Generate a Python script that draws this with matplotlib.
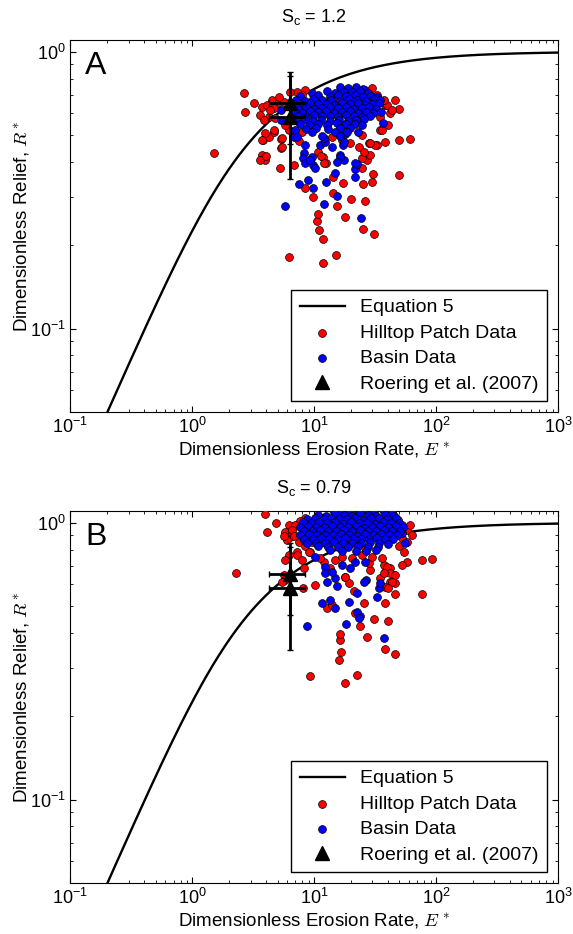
import numpy as np
import matplotlib
matplotlib.use("Agg")
import matplotlib.pyplot as plt
from matplotlib.ticker import NullFormatter, LogLocator

plt.rcParams['font.family'] = ['Liberation Sans', 'DejaVu Sans']
plt.rcParams['mathtext.fontset'] = 'custom'
plt.rcParams['mathtext.rm'] = 'Liberation Sans'
plt.rcParams['mathtext.it'] = 'Liberation Sans:italic'
plt.rcParams['mathtext.bf'] = 'Liberation Sans:bold'

# Roering et al. (2007) estimates (same in both panels)
roering_E = [6.36, 6.36]
roering_R = [0.653, 0.582]
roering_E_err = [2.1, 2.1]
roering_R_err = [0.19, 0.235]

# ---- Panel A (S_c = 1.2) ----
hilltop_A_E = [2.63, 3.18, 2.72, 1.50, 6.16, 11.7, 15.1, 11.8, 11.0, 10.5,
               10.7, 9.68, 17.9, 24.9, 30.6, 15.5, 20.1, 26.2, 14.2, 8.44,
               17.1, 24.9, 30.3, 50.0, 61.2, 49.1, 38.2, 49.8, 14.2, 11.7,
               12.5, 5.26, 6.77, 5.36, 3.73, 3.97, 3.61, 4.04, 3.80, 4.22,
               4.70, 5.36, 7.43, 27.0, 28.8, 27.9, 32.7, 34.8, 40.6, 42.0,
               38.2, 29.7, 3.73, 4.10, 4.64, 4.50, 5.10, 3.61, 4.22, 4.79,
               3.97, 3.73, 4.64, 5.43, 6.16, 39.4, 43.3, 46.1, 34.8, 35.9,
               31.6, 28.8, 24.6, 23.1, 19.7, 26.2, 8.44, 7.93, 7.21, 6.36,
               14.0, 16.9, 24.6, 7.93, 6.77, 10.8, 11.9, 11.4, 5.43, 25.4,
               24.6, 29.7, 14.9, 21.7, 24.6, 11.9, 16.9, 10.2, 22.4, 32.7,
               37.0, 4.36, 3.84, 5.60, 5.10, 5.78]
hilltop_A_R = [0.708, 0.652, 0.605, 0.430, 0.181, 0.173, 0.185, 0.210, 0.228, 0.244,
               0.259, 0.299, 0.253, 0.229, 0.219, 0.277, 0.293, 0.289, 0.308, 0.322,
               0.336, 0.334, 0.361, 0.360, 0.483, 0.479, 0.473, 0.620, 0.353, 0.418,
               0.397, 0.379, 0.390, 0.448, 0.424, 0.406, 0.406, 0.421, 0.480, 0.491,
               0.514, 0.484, 0.477, 0.406, 0.424, 0.467, 0.460, 0.522, 0.544, 0.600,
               0.643, 0.739, 0.634, 0.643, 0.625, 0.670, 0.661, 0.591, 0.583, 0.575,
               0.507, 0.480, 0.522, 0.487, 0.522, 0.643, 0.617, 0.670, 0.583, 0.522,
               0.460, 0.467, 0.412, 0.454, 0.467, 0.728, 0.728, 0.699, 0.718, 0.718,
               0.493, 0.480, 0.500, 0.514, 0.500, 0.435, 0.395, 0.421, 0.454, 0.435,
               0.379, 0.339, 0.679, 0.625, 0.567, 0.661, 0.544, 0.529, 0.728, 0.699,
               0.670, 0.617, 0.567, 0.661, 0.689, 0.544]

basin_A_E = [5.71, 11.9, 15.3, 24.1, 7.55, 8.87, 9.67, 12.5, 21.4, 21.7,
             22.4, 14.7, 17.4, 16.1, 36.3, 5.36, 5.33, 8.44, 8.17, 8.12,
             8.44, 9.81, 9.63, 11.2, 12.3, 14.0, 17.3, 16.3, 15.4, 21.7,
             10.2, 9.27, 17.4, 17.9, 6.78, 11.9, 6.99, 7.21,
             16.3, 19.0, 22.1, 25.2,
             9.63, 12.8, 14.9, 17.6, 20.5, 23.8, 27.7,
             7.68, 10.8, 13.5, 15.7, 18.3, 21.7, 25.2, 29.3, 32.8,
             7.12, 8.44, 9.81, 11.6, 13.8, 16.3, 19.4, 22.5, 26.7, 31.0, 34.8,
             6.73, 7.97, 9.27, 10.8, 12.5, 14.6, 17.0, 19.7, 22.9, 26.2, 29.9, 34.1,
             7.26, 8.60, 10.0, 11.6, 13.5, 15.7, 18.3, 21.3, 24.7, 28.2, 32.2,
             6.86, 7.97, 9.27, 10.8, 12.5, 14.6, 17.0, 19.7, 22.9, 26.7, 30.5, 35.4,
             7.39, 8.60, 10.0, 11.6, 13.5, 15.7, 18.3, 21.3, 24.7, 28.8,
             7.26, 8.44, 9.81, 11.4, 13.5, 16.0, 19.0, 22.1, 25.7,
             7.68, 9.10, 10.8, 12.8, 15.4, 18.3, 21.7, 24.7,
             8.60, 10.4, 13.0, 16.3, 19.7,
             9.63, 14.9, 18.6, 22.9,
             11.6, 16.3]
basin_A_R = [0.277, 0.281, 0.301, 0.250, 0.334, 0.344, 0.321, 0.339, 0.353, 0.376,
             0.393, 0.364, 0.406, 0.424, 0.555, 0.567, 0.617, 0.460, 0.430, 0.413,
             0.396, 0.390, 0.417, 0.460, 0.472, 0.453, 0.460, 0.417, 0.400, 0.396,
             0.379, 0.406, 0.473, 0.505, 0.493, 0.488, 0.522, 0.493,
             0.745, 0.738, 0.743, 0.736,
             0.712, 0.720, 0.709, 0.718, 0.713, 0.721, 0.711,
             0.690, 0.697, 0.688, 0.695, 0.691, 0.699, 0.686, 0.694, 0.689,
             0.672, 0.664, 0.675, 0.668, 0.671, 0.662, 0.676, 0.669, 0.665, 0.673, 0.667,
             0.650, 0.644, 0.652, 0.646, 0.649, 0.641, 0.653, 0.645, 0.651, 0.643, 0.648, 0.654,
             0.625, 0.630, 0.622, 0.628, 0.631, 0.624, 0.629, 0.621, 0.627, 0.632, 0.623,
             0.608, 0.602, 0.610, 0.604, 0.609, 0.601, 0.607, 0.611, 0.603, 0.606, 0.600, 0.605,
             0.588, 0.583, 0.590, 0.584, 0.587, 0.581, 0.589, 0.585, 0.582, 0.586,
             0.565, 0.570, 0.563, 0.568, 0.564, 0.569, 0.562, 0.566, 0.571,
             0.550, 0.545, 0.549, 0.544, 0.551, 0.546, 0.548, 0.543,
             0.528, 0.532, 0.527, 0.531, 0.529,
             0.514, 0.511, 0.515, 0.512,
             0.497, 0.495]

# ---- Panel B (S_c = 0.79) ----
hilltop_B_E = [3.97, 4.88, 4.10, 2.28, 6.16, 5.78, 6.36, 6.01, 6.60, 6.16,
               5.78, 7.21, 8.17, 5.60, 5.78, 5.43, 8.08, 10.2, 9.27, 17.9,
               22.6, 15.8, 16.6, 16.1, 16.3, 27.0, 23.5, 30.6, 40.2, 37.7,
               46.1, 12.7, 14.0, 17.7, 19.1, 21.3, 21.7, 25.8, 37.7, 46.1,
               76.4, 76.4, 57.5, 44.7, 42.0, 46.1, 38.2, 34.8, 37.0, 42.0,
               38.2, 28.8, 27.9, 11.9, 9.27, 92.2,
               8.44, 7.68, 6.99, 6.56, 5.60, 6.77, 7.43, 8.44, 8.98, 7.21, 7.93,
               52.4, 57.5, 61.2, 63.2, 52.4, 57.5, 49.1, 54.0,
               14.9, 16.9, 20.4, 24.6, 29.7, 35.9, 39.4, 42.0, 37.0, 43.3,
               40.6, 17.9, 13.5, 11.2, 52.4, 46.1,
               11.6, 16.9, 38.2, 43.3, 9.57, 26.2, 19.0, 34.8, 46.1, 48.8]
hilltop_B_R = [1.078, 0.998, 0.925, 0.657, 0.983, 0.928, 0.890, 0.868, 0.920, 0.766,
               0.734, 0.787, 0.685, 0.648, 0.622, 0.613, 0.580, 0.596, 0.279, 0.264,
               0.283, 0.319, 0.342, 0.377, 0.398, 0.387, 0.425, 0.448, 0.443, 0.350,
               0.335, 0.491, 0.505, 0.636, 0.608, 0.568, 0.471, 0.514, 0.514, 0.552,
               0.552, 0.734, 0.724, 0.648, 0.613, 0.605, 0.588, 0.630, 0.705, 0.685,
               0.666, 0.676, 0.714, 0.724, 0.787, 0.741,
               1.040, 1.011, 0.983, 0.943, 0.892, 0.892, 0.855, 0.821, 0.787, 0.766, 0.734,
               0.983, 0.943, 0.983, 0.905, 0.880, 0.855, 0.821, 0.787,
               0.734, 0.755, 0.745, 0.766, 0.755, 0.745, 0.694, 0.657, 0.657, 0.613,
               0.580, 0.639, 0.685, 0.745, 0.705, 0.648,
               1.040, 1.099, 1.099, 1.084, 0.855, 0.810, 0.832, 0.868, 0.943, 1.025]

basin_B_E = [8.71, 11.6, 13.5, 14.7, 18.2, 23.5, 37.0, 19.1, 22.4, 26.7,
             32.7, 33.7, 34.8, 12.3, 12.3, 12.7, 14.9, 15.3, 14.0, 16.9,
             19.7, 21.7, 26.2, 8.17, 8.33, 10.2, 55.7, 52.4, 22.4, 25.4, 23.1,
             14.3, 16.6, 19.7, 22.9, 26.7, 31.0, 36.8, 43.6,
             10.8, 12.5, 14.9, 17.6, 20.5, 23.8, 27.7, 32.2, 38.2, 45.3,
             8.76, 10.2, 11.9, 13.8, 16.0, 18.6, 21.7, 25.2, 29.3, 34.1, 39.7, 47.0,
             8.12, 9.45, 11.0, 12.8, 14.9, 17.3, 20.1, 23.4, 27.2, 31.6, 36.8, 42.8, 49.8,
             7.68, 8.93, 10.4, 12.1, 14.0, 16.3, 19.0, 22.1, 25.7, 29.9, 34.8, 40.4, 47.0, 53.6,
             8.28, 9.63, 11.2, 13.0, 15.1, 17.6, 20.5, 23.8, 27.7, 32.2, 37.5, 43.6, 50.7,
             7.68, 9.10, 10.6, 12.3, 14.3, 16.6, 19.4, 22.5, 26.2, 30.5, 35.4, 41.2, 47.9,
             8.28, 9.81, 11.4, 13.3, 15.4, 17.9, 20.9, 24.3, 28.2, 32.8, 38.2, 44.4,
             8.76, 10.4, 12.3, 14.6, 17.3, 20.5, 24.3, 28.8, 34.1, 40.4,
             10.8, 13.0, 15.7, 19.0, 22.9, 27.7, 33.5,
             13.5, 17.0, 22.1, 26.7, 32.2]
basin_B_R = [0.425, 0.512, 0.526, 0.491, 0.430, 0.460, 0.384, 0.519, 0.559, 0.622,
             0.541, 0.580, 0.605, 0.694, 0.657, 0.613, 0.630, 0.591, 0.666, 0.705,
             0.685, 0.724, 0.724, 0.868, 0.930, 0.755, 0.848, 0.918, 0.477, 0.613, 0.452,
             1.110, 1.100, 1.110, 1.090, 1.110, 1.100, 1.110, 1.090,
             1.070, 1.060, 1.080, 1.070, 1.060, 1.080, 1.070, 1.060, 1.070, 1.060,
             1.032, 1.041, 1.028, 1.038, 1.035, 1.030, 1.043, 1.027, 1.036, 1.040, 1.031, 1.037,
             1.002, 0.994, 1.006, 0.997, 1.003, 0.992, 1.008, 0.998, 1.001, 0.993, 1.005, 0.996, 1.000,
             0.965, 0.971, 0.962, 0.969, 0.974, 0.963, 0.968, 0.972, 0.960, 0.967, 0.970, 0.964, 0.973, 0.966,
             0.937, 0.932, 0.940, 0.934, 0.931, 0.938, 0.933, 0.941, 0.936, 0.930, 0.939, 0.935, 0.932,
             0.903, 0.908, 0.900, 0.906, 0.902, 0.909, 0.904, 0.899, 0.907, 0.903, 0.910, 0.901, 0.905,
             0.877, 0.872, 0.879, 0.874, 0.870, 0.878, 0.873, 0.876, 0.871, 0.879, 0.874, 0.877,
             0.848, 0.843, 0.846, 0.850, 0.842, 0.847, 0.844, 0.849, 0.845, 0.841,
             0.821, 0.817, 0.820, 0.816, 0.822, 0.818, 0.815,
             0.794, 0.790, 0.793, 0.789, 0.795]


def equation5(E):
    """Steady-state relief vs erosion rate (Roering et al. 2007)."""
    s = np.sqrt(1 + E**2)
    return (1.0 / E) * (s - np.log(0.5 * (1 + s)) - 1)


def draw_panel(ax, h_E, h_R, b_E, b_R, title, letter):
    E = np.logspace(-1, 3, 500)
    ax.plot(E, equation5(E), 'k-', lw=1.7, label='Equation 5', zorder=2)
    ax.scatter(h_E, h_R, s=32, c='#ff0000', edgecolors='k', linewidths=0.5,
               label='Hilltop Patch Data', zorder=3)
    ax.scatter(b_E, b_R, s=32, c='#0000ff', edgecolors='k', linewidths=0.5,
               label='Basin Data', zorder=4)
    ax.errorbar(roering_E, roering_R, xerr=roering_E_err, yerr=roering_R_err,
                fmt='none', ecolor='k', elinewidth=2, capsize=2.5, capthick=1,
                zorder=5)
    ax.plot(roering_E, roering_R, 'k^', ms=10, label='Roering et al. (2007)',
            zorder=6)

    ax.set_xscale('log')
    ax.set_yscale('log')
    ax.set_xlim(0.1, 1000)
    ax.set_ylim(0.05, 1.1)
    ax.yaxis.set_minor_formatter(NullFormatter())
    ax.xaxis.set_minor_locator(LogLocator(base=10, subs=np.arange(2, 10)))
    ax.tick_params(which='both', direction='in', top=True, right=True,
                   labelsize=13)
    ax.tick_params(which='major', length=4.5)
    ax.tick_params(which='minor', length=2.5)

    ax.set_xlabel(r'Dimensionless Erosion Rate, $E^*$', fontsize=13.5,
                  math_fontfamily='cm', labelpad=2)
    ax.set_ylabel(r'Dimensionless Relief, $R^*$', fontsize=13.5,
                  math_fontfamily='cm')
    ax.yaxis.set_label_coords(-0.078, 0.5)
    ax.set_title(title, fontsize=13, pad=13)
    ax.text(0.03, 0.97, letter, transform=ax.transAxes, fontsize=23,
            va='top', ha='left')

    leg = ax.legend(loc='lower right', fontsize=14, frameon=True,
                    fancybox=False, edgecolor='k', framealpha=1,
                    numpoints=1, scatterpoints=1, handlelength=2.3,
                    handletextpad=0.8, labelspacing=0.4, borderpad=0.45,
                    borderaxespad=0.55)
    leg.get_frame().set_linewidth(1.0)


fig = plt.figure(figsize=(5.73, 9.34), dpi=100)
ax_a = fig.add_axes([0.123, 0.5589, 0.851, 0.398])
ax_b = fig.add_axes([0.123, 0.0546, 0.851, 0.398])

draw_panel(ax_a, hilltop_A_E, hilltop_A_R, basin_A_E, basin_A_R,
           r'$\mathrm{S_c}$ = 1.2', 'A')
draw_panel(ax_b, hilltop_B_E, hilltop_B_R, basin_B_E, basin_B_R,
           r'$\mathrm{S_c}$ = 0.79', 'B')

fig.savefig('out.png', dpi=100, facecolor='white')
